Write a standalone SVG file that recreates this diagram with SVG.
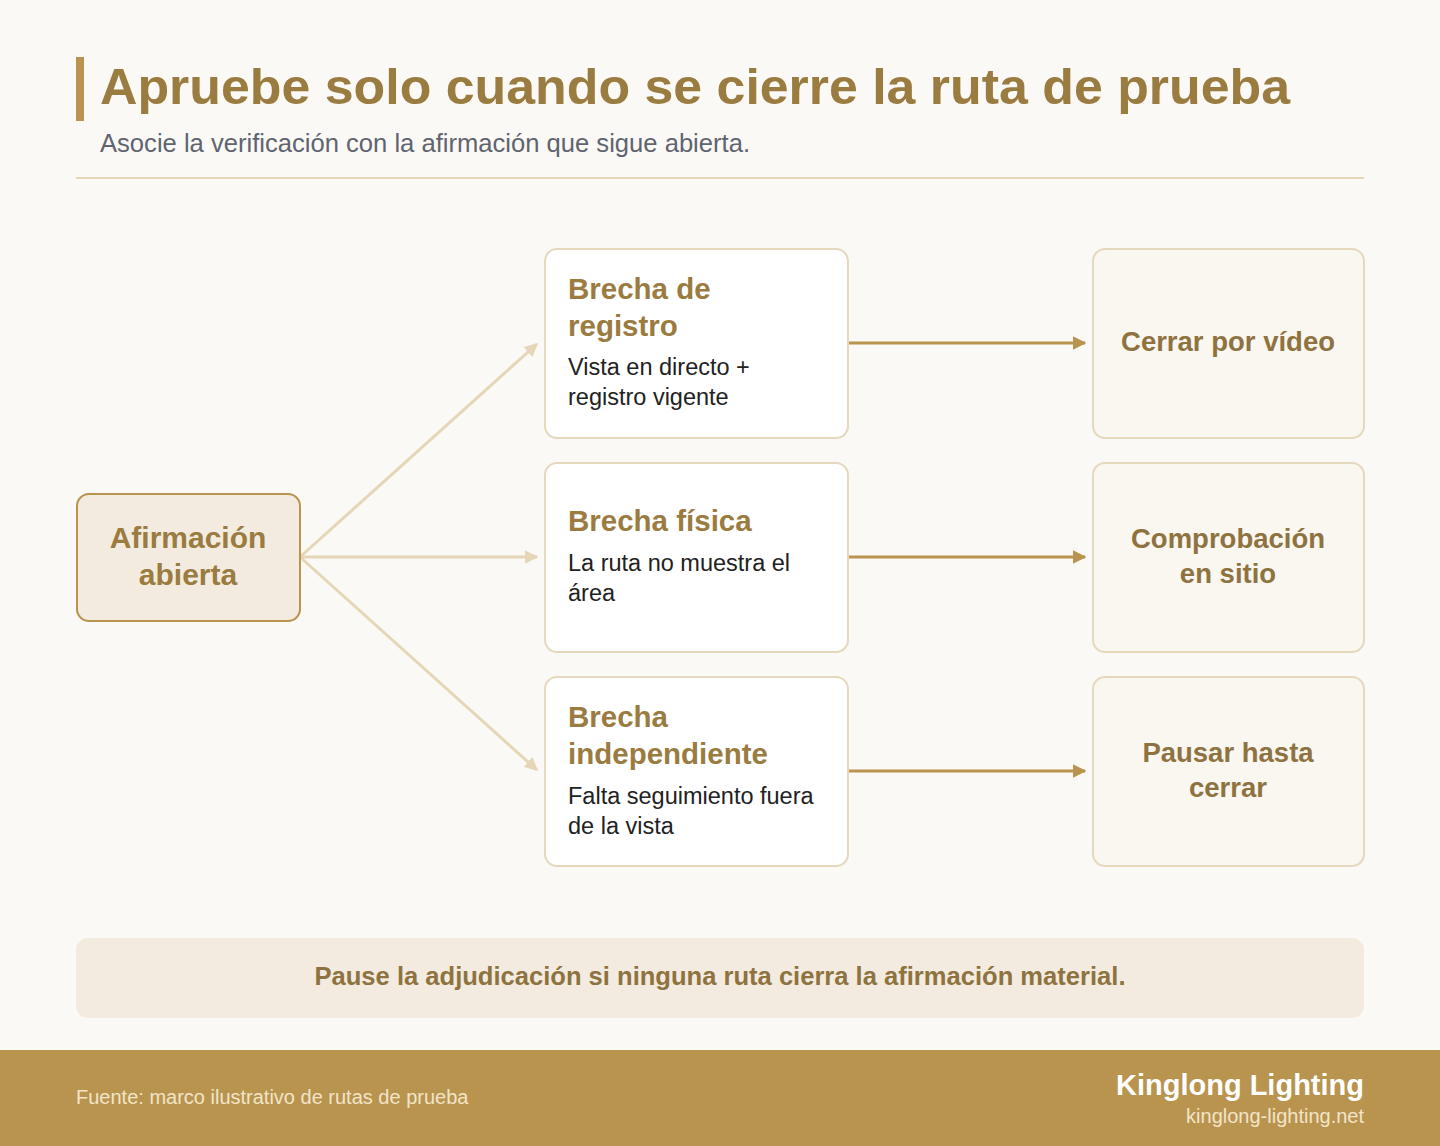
<svg xmlns="http://www.w3.org/2000/svg" width="1440" height="1146" viewBox="0 0 1440 1146">
<style>
text{font-family:"Liberation Sans",Arial,sans-serif}
.h{font-weight:bold;font-size:29.5px;fill:#9a7b40}
.b{font-size:23.5px;fill:#222}
.r{font-weight:bold;font-size:27.5px;fill:#8e7340;text-anchor:middle}
.mid{fill:#fff;stroke:#e5d8bc;stroke-width:2}
.rt{fill:#faf6f0;stroke:#e5d8bc;stroke-width:2}
</style>
<defs>
<marker id="al" viewBox="0 0 10 10" refX="9" refY="5" markerWidth="4.5" markerHeight="4.5" orient="auto" markerUnits="strokeWidth"><path d="M0,0L10,5L0,10z" fill="#e5d6b8"/></marker>
<marker id="ad" viewBox="0 0 10 10" refX="9" refY="5" markerWidth="4.5" markerHeight="4.5" orient="auto" markerUnits="strokeWidth"><path d="M0,0L10,5L0,10z" fill="#b8944f"/></marker>
</defs>
<rect width="1440" height="1146" fill="#fbf9f5"/>
<rect x="76" y="57" width="8" height="64" fill="#b8944f"/>
<text x="100" y="104" font-size="50" font-weight="bold" fill="#9a7b40" textLength="1190" lengthAdjust="spacingAndGlyphs">Apruebe solo cuando se cierre la ruta de prueba</text>
<text x="100" y="152" font-size="25" fill="#5f6470" textLength="650" lengthAdjust="spacingAndGlyphs">Asocie la verificación con la afirmación que sigue abierta.</text>
<line x1="76" y1="178" x2="1364" y2="178" stroke="#e5d6b8" stroke-width="2"/>
<g id="connectors" fill="none" stroke-width="3">
<line x1="300" y1="557" x2="537" y2="344" stroke="#e5d6b8" marker-end="url(#al)"/>
<line x1="300" y1="557" x2="537" y2="557" stroke="#e5d6b8" marker-end="url(#al)"/>
<line x1="300" y1="557" x2="537" y2="770" stroke="#e5d6b8" marker-end="url(#al)"/>
<line x1="848" y1="343" x2="1085" y2="343" stroke="#b8944f" marker-end="url(#ad)"/>
<line x1="848" y1="557" x2="1085" y2="557" stroke="#b8944f" marker-end="url(#ad)"/>
<line x1="848" y1="771" x2="1085" y2="771" stroke="#b8944f" marker-end="url(#ad)"/>
</g>
<g id="claim"><rect x="77" y="494" width="223" height="127" rx="12" fill="#f3ebdf" stroke="#b8944f" stroke-width="2"/>
<text x="188" y="548" font-size="30" font-weight="bold" fill="#9a7b40" text-anchor="middle">Afirmación</text>
<text x="188" y="585" font-size="30" font-weight="bold" fill="#9a7b40" text-anchor="middle">abierta</text></g>
<g id="gap1"><rect class="mid" x="545" y="249" width="303" height="189" rx="12"/>
<text class="h" x="568" y="299">Brecha de</text><text class="h" x="568" y="336">registro</text>
<text class="b" x="568" y="375">Vista en directo +</text><text class="b" x="568" y="405">registro vigente</text></g>
<g id="gap2"><rect class="mid" x="545" y="463" width="303" height="189" rx="12"/>
<text class="h" x="568" y="531">Brecha física</text>
<text class="b" x="568" y="571">La ruta no muestra el</text><text class="b" x="568" y="601">área</text></g>
<g id="gap3"><rect class="mid" x="545" y="677" width="303" height="189" rx="12"/>
<text class="h" x="568" y="727">Brecha</text><text class="h" x="568" y="764">independiente</text>
<text class="b" x="568" y="804">Falta seguimiento fuera</text><text class="b" x="568" y="834">de la vista</text></g>
<g id="out1"><rect class="rt" x="1093" y="249" width="271" height="189" rx="12"/>
<text class="r" x="1228" y="351">Cerrar por vídeo</text></g>
<g id="out2"><rect class="rt" x="1093" y="463" width="271" height="189" rx="12"/>
<text class="r" x="1228" y="548">Comprobación</text><text class="r" x="1228" y="583">en sitio</text></g>
<g id="out3"><rect class="rt" x="1093" y="677" width="271" height="189" rx="12"/>
<text class="r" x="1228" y="762">Pausar hasta</text><text class="r" x="1228" y="797">cerrar</text></g>
<g id="banner"><rect x="76" y="938" width="1288" height="80" rx="12" fill="#f3ebdf"/>
<text x="720" y="985" font-size="25" font-weight="bold" fill="#8e7340" text-anchor="middle" textLength="811" lengthAdjust="spacingAndGlyphs">Pause la adjudicación si ninguna ruta cierra la afirmación material.</text></g>
<g id="footer"><rect x="0" y="1050" width="1440" height="96" fill="#b8944f"/>
<text x="76" y="1104" font-size="20" fill="#f3e4c8">Fuente: marco ilustrativo de rutas de prueba</text>
<text x="1364" y="1095" font-size="29" font-weight="bold" fill="#fff" text-anchor="end">Kinglong Lighting</text>
<text x="1364" y="1123" font-size="20" fill="#f3e4c8" text-anchor="end">kinglong-lighting.net</text></g>
</svg>
